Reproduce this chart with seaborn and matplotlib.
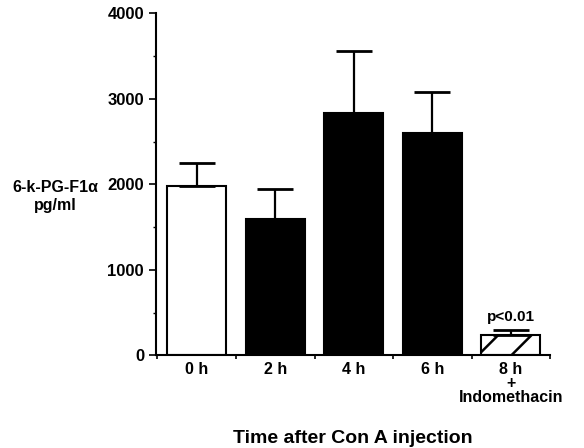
import numpy as np
import pandas as pd
import seaborn as sns
import matplotlib
matplotlib.use("Agg")
import matplotlib.pyplot as plt
from matplotlib.ticker import MultipleLocator

groups = ["0 h", "2 h", "4 h", "6 h", "8 h\n+\nIndomethacin"]
means = [1980, 1600, 2840, 2600, 235]
sem = [265, 340, 725, 480, 60]
fills = ["white", "black", "black", "black", "white"]
hatches = ["", "", "", "", "/"]

sns.set_style("ticks")
plt.rcParams["font.family"] = ["Liberation Sans", "DejaVu Sans"]
plt.rcParams["font.weight"] = "bold"
plt.rcParams["hatch.linewidth"] = 1.8
plt.rcParams["text.color"] = "black"
plt.rcParams["xtick.color"] = "black"
plt.rcParams["ytick.color"] = "black"
plt.rcParams["axes.labelcolor"] = "black"
plt.rcParams["axes.edgecolor"] = "black"

df = pd.DataFrame({"group": groups, "value": means})

fig, ax = plt.subplots(figsize=(5.84, 4.48), dpi=100)
sns.barplot(data=df, x="group", y="value", ax=ax, width=0.75,
            edgecolor="black", linewidth=1.5, errorbar=None)
for patch, fc, h in zip(ax.patches, fills, hatches):
    patch.set_facecolor(fc)
    patch.set_hatch(h)

x = np.arange(len(groups))
ax.errorbar(x, means, yerr=[np.zeros(len(sem)), sem], fmt="none",
            ecolor="black", elinewidth=1.6, capsize=13, capthick=2)

ax.text(4, 370, "p<0.01", ha="center", va="bottom", fontsize=11)

ax.set_ylim(0, 4000)
ax.set_xlim(-0.52, 4.5)
ax.yaxis.set_major_locator(MultipleLocator(1000))
ax.yaxis.set_minor_locator(MultipleLocator(500))
ax.set_xticks(x)
ax.set_xticks(np.arange(-0.5, 4.6, 1.0), minor=True)
ax.tick_params(axis="x", which="major", length=0, pad=5, labelsize=11.5)
ax.tick_params(axis="x", which="minor", length=3, width=1.2, direction="out")
ax.tick_params(axis="y", which="major", length=5, width=1.2, labelsize=12)
ax.tick_params(axis="y", which="minor", length=2.5, width=1)
for lab in ax.get_xticklabels() + ax.get_yticklabels():
    lab.set_fontweight("bold")
for lab in ax.get_xticklabels():
    lab.set_linespacing(0.92)

sns.despine(ax=ax)
ax.spines["left"].set_linewidth(1.5)
ax.spines["bottom"].set_linewidth(1.5)

ax.set_ylabel("6-k-PG-F1α\npg/ml", rotation=0, fontsize=11.5,
              fontweight="bold", ha="center", va="center")
ax.yaxis.set_label_coords(-0.255, 0.465)
ax.set_xlabel("Time after Con A injection", fontsize=14,
              fontweight="bold", labelpad=18)

fig.subplots_adjust(left=0.267, right=0.942, top=0.97, bottom=0.207)
fig.savefig("out.png", dpi=100)
